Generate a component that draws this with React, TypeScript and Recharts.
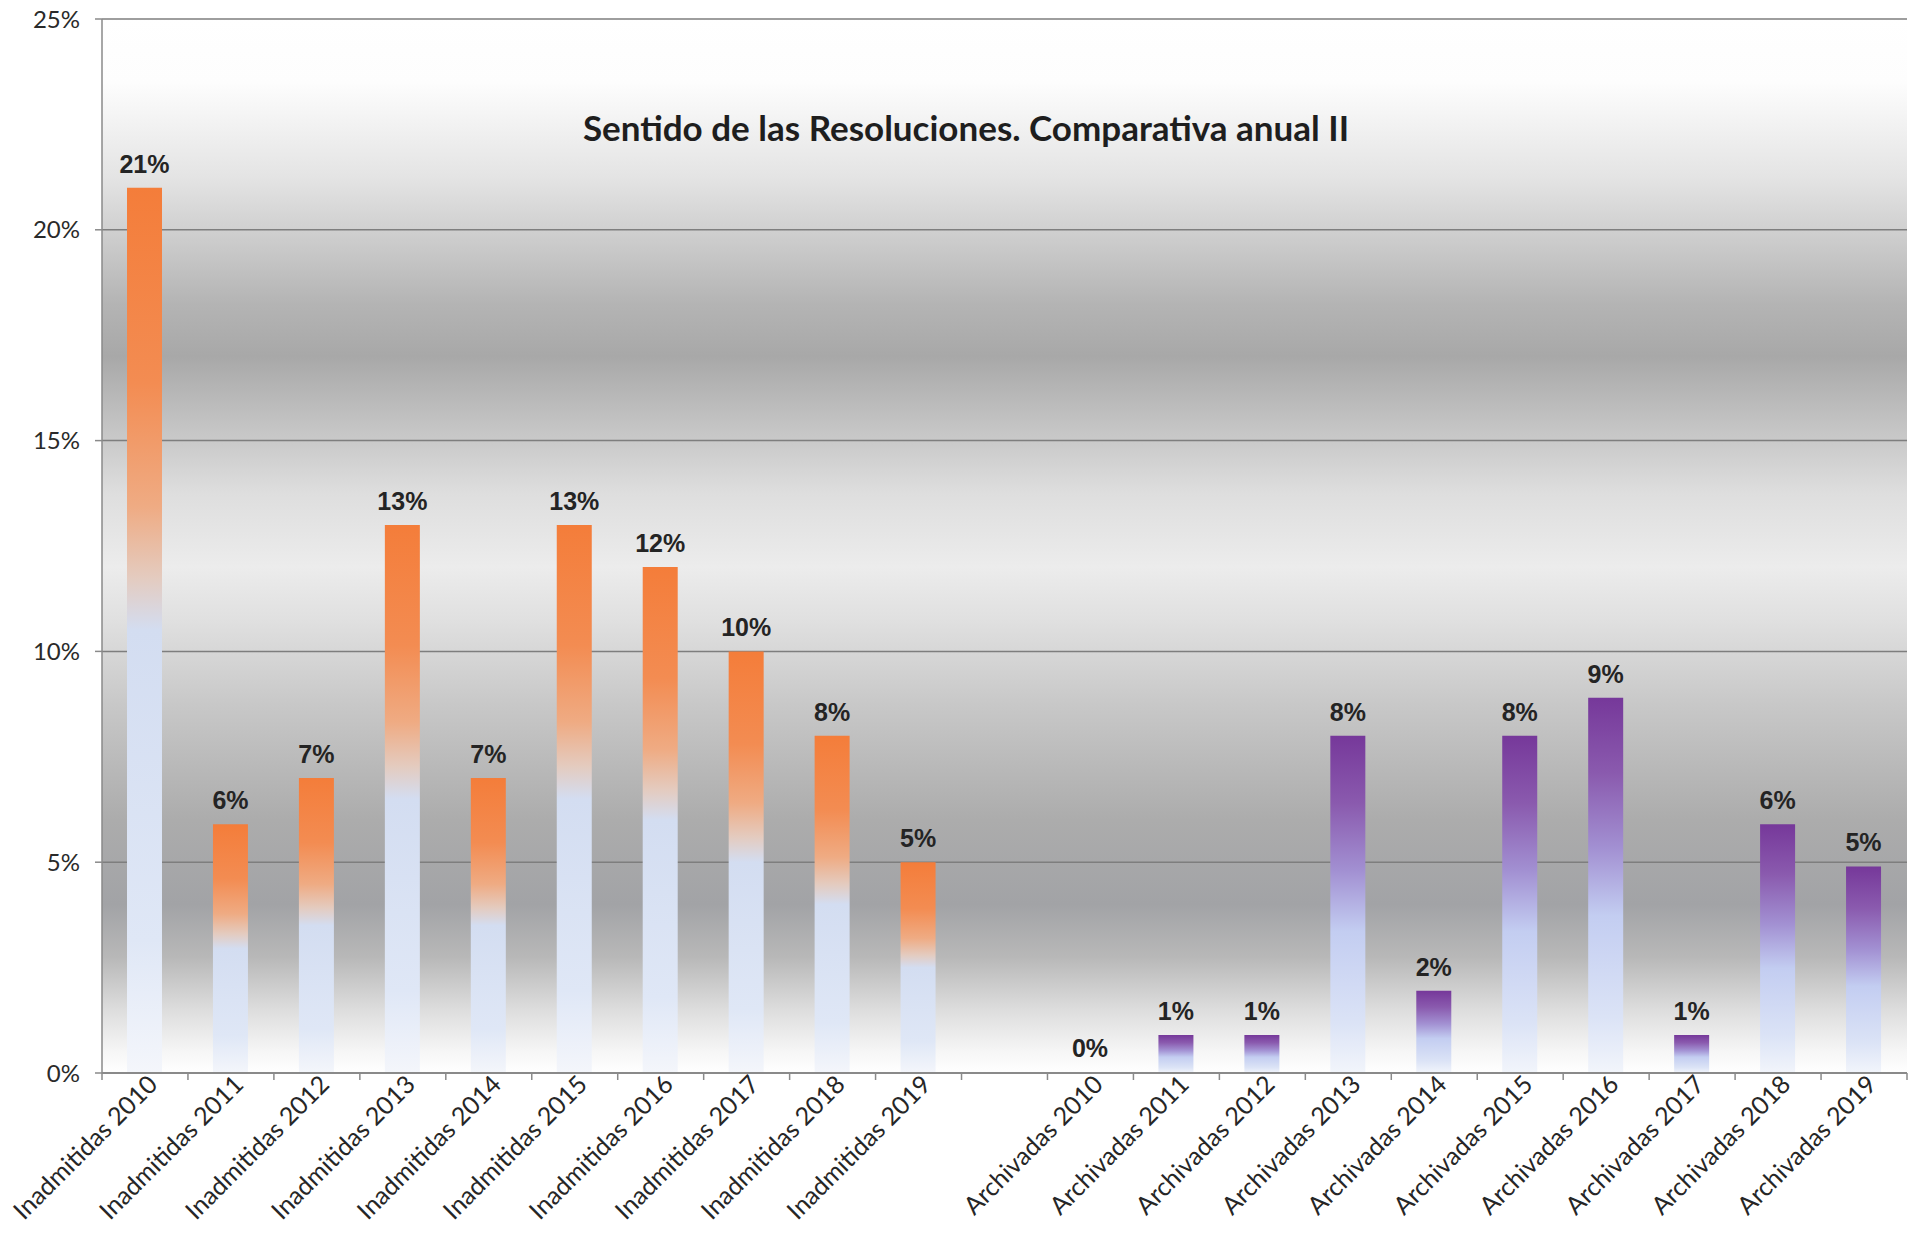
import { BarChart, Bar, XAxis, YAxis, CartesianGrid, LabelList, Cell } from "recharts"

const categories = [
  "Inadmitidas 2010",
  "Inadmitidas 2011",
  "Inadmitidas 2012",
  "Inadmitidas 2013",
  "Inadmitidas 2014",
  "Inadmitidas 2015",
  "Inadmitidas 2016",
  "Inadmitidas 2017",
  "Inadmitidas 2018",
  "Inadmitidas 2019",
  "",
  "Archivadas 2010",
  "Archivadas 2011",
  "Archivadas 2012",
  "Archivadas 2013",
  "Archivadas 2014",
  "Archivadas 2015",
  "Archivadas 2016",
  "Archivadas 2017",
  "Archivadas 2018",
  "Archivadas 2019",
]

const inadmitidas = [21, 5.9, 7, 13, 7, 13, 12, 10, 8, 5]
const archivadas = [0, 0.9, 0.9, 8, 1.95, 8, 8.9, 0.9, 5.9, 4.9]
const yTicks = [0, 5, 10, 15, 20, 25]

const title = "Sentido de las Resoluciones. Comparativa anual II"

const WIDTH = 1929
const HEIGHT = 1252
const MARGIN = { top: 19, right: 22, left: 0, bottom: 0 }
const Y_AXIS_W = 102
const X_AXIS_H = 179
const PLOT_W = WIDTH - MARGIN.left - MARGIN.right - Y_AXIS_W
const STEP = PLOT_W / categories.length

const rows = categories.map((name, i) => {
  let value: number | null = null
  let group = ""
  if (i < inadmitidas.length) {
    value = inadmitidas[i]
    group = "inad"
  } else if (i > inadmitidas.length) {
    value = archivadas[i - inadmitidas.length - 1]
    group = "arch"
  }
  return { name, value, group }
})

// tick marks sit on category boundaries, labels rotated under each bar
function CategoryTick(props: any) {
  const { x, y, payload, index } = props
  const left = x - STEP / 2
  const tx = x + 14
  const ty = y + 13
  return (
    <g>
      <line x1={left} x2={left} y1={y} y2={y + 7} stroke="#8a8a8a" strokeWidth={1.5} />
      {index === categories.length - 1 && (
        <line x1={x + STEP / 2} x2={x + STEP / 2} y1={y} y2={y + 7} stroke="#8a8a8a" strokeWidth={1.5} />
      )}
      <text
        x={tx}
        y={ty}
        textAnchor="end"
        transform={`rotate(-45, ${tx}, ${ty})`}
        fontFamily="Lato, sans-serif"
        fontSize={25}
        fill="#262626"
      >
        {payload.value}
      </text>
    </g>
  )
}

function cellFill(r: { value: number | null; group: string }) {
  if (r.value === 0) return "transparent"
  return r.group === "arch" ? "url(#purpleBar)" : "url(#orangeBar)"
}

export default function App() {
  return (
    <div style={{ position: "absolute", left: 0, top: 0, width: WIDTH, height: HEIGHT, background: "#fff" }}>
      <BarChart width={WIDTH} height={HEIGHT} data={rows} margin={MARGIN}>
        <defs>
          <linearGradient id="plotBg" x1="0" y1="0" x2="0" y2="1">
            <stop offset="0" stopColor="#ffffff" />
            <stop offset="0.06" stopColor="#fdfdfd" />
            <stop offset="0.15" stopColor="#e4e4e4" />
            <stop offset="0.2" stopColor="#d0d0d0" />
            <stop offset="0.27" stopColor="#b4b4b4" />
            <stop offset="0.32" stopColor="#a8a8a8" />
            <stop offset="0.37" stopColor="#bdbdbd" />
            <stop offset="0.45" stopColor="#dedede" />
            <stop offset="0.52" stopColor="#ececec" />
            <stop offset="0.57" stopColor="#e0e0e0" />
            <stop offset="0.65" stopColor="#c8c8c8" />
            <stop offset="0.76" stopColor="#acacac" />
            <stop offset="0.84" stopColor="#a2a3a6" />
            <stop offset="0.89" stopColor="#b8b8b8" />
            <stop offset="0.94" stopColor="#dddddd" />
            <stop offset="0.98" stopColor="#f6f6f6" />
            <stop offset="1" stopColor="#ffffff" />
          </linearGradient>
          <linearGradient id="orangeBar" x1="0" y1="0" x2="0" y2="1">
            <stop offset="0" stopColor="#f47d3a" />
            <stop offset="0.22" stopColor="#f38c52" />
            <stop offset="0.36" stopColor="#efab83" />
            <stop offset="0.44" stopColor="#e4cbbf" />
            <stop offset="0.5" stopColor="#d3ddf1" />
            <stop offset="0.85" stopColor="#dfe7f6" />
            <stop offset="1" stopColor="#f4f6fb" />
          </linearGradient>
          <linearGradient id="purpleBar" x1="0" y1="0" x2="0" y2="1">
            <stop offset="0" stopColor="#76389a" />
            <stop offset="0.2" stopColor="#8a5aae" />
            <stop offset="0.4" stopColor="#a290d2" />
            <stop offset="0.58" stopColor="#c3cdf1" />
            <stop offset="0.85" stopColor="#dbe3f6" />
            <stop offset="1" stopColor="#f2f5fb" />
          </linearGradient>
        </defs>
        <CartesianGrid
          vertical={false}
          stroke="#7e7e7e"
          strokeWidth={1.5}
          fill="url(#plotBg)"
          fillOpacity={1}
        />
        <XAxis
          dataKey="name"
          height={X_AXIS_H}
          interval={0}
          tickLine={false}
          tickSize={0}
          tickMargin={0}
          axisLine={{ stroke: "#8a8a8a", strokeWidth: 2 }}
          tick={<CategoryTick />}
        />
        <YAxis
          width={Y_AXIS_W}
          domain={[0, 25]}
          ticks={yTicks}
          interval={0}
          tickFormatter={(v: number) => `${v}%`}
          axisLine={{ stroke: "#8a8a8a", strokeWidth: 1.5 }}
          tickLine={{ stroke: "#8a8a8a", strokeWidth: 1.5 }}
          tickSize={7}
          tickMargin={15}
          tick={{ fill: "#2a2a2a", fontSize: 24, fontFamily: "Lato, sans-serif" }}
        />
        <Bar
          dataKey="value"
          barSize={35}
          minPointSize={(v: any) => (v === 0 ? 1 : 0)}
          isAnimationActive={false}
        >
          {rows.map((r, i) => (
            <Cell key={i} fill={cellFill(r)} />
          ))}
          <LabelList
            dataKey="value"
            position="top"
            offset={15}
            formatter={(v: any) => (v == null ? "" : `${Math.round(v)}%`)}
            fill="#242424"
            fontSize={25}
            fontWeight="bold"
            fontFamily="'Liberation Sans', Arial, sans-serif"
          />
        </Bar>
      </BarChart>
      <div
        style={{
          position: "absolute",
          left: 0,
          top: 110,
          width: 1932,
          textAlign: "center",
          fontFamily: "Lato, sans-serif",
          fontWeight: 700,
          fontSize: 35,
          lineHeight: "35px",
          color: "#1e1e1e",
        }}
      >
        {title}
      </div>
    </div>
  )
}
